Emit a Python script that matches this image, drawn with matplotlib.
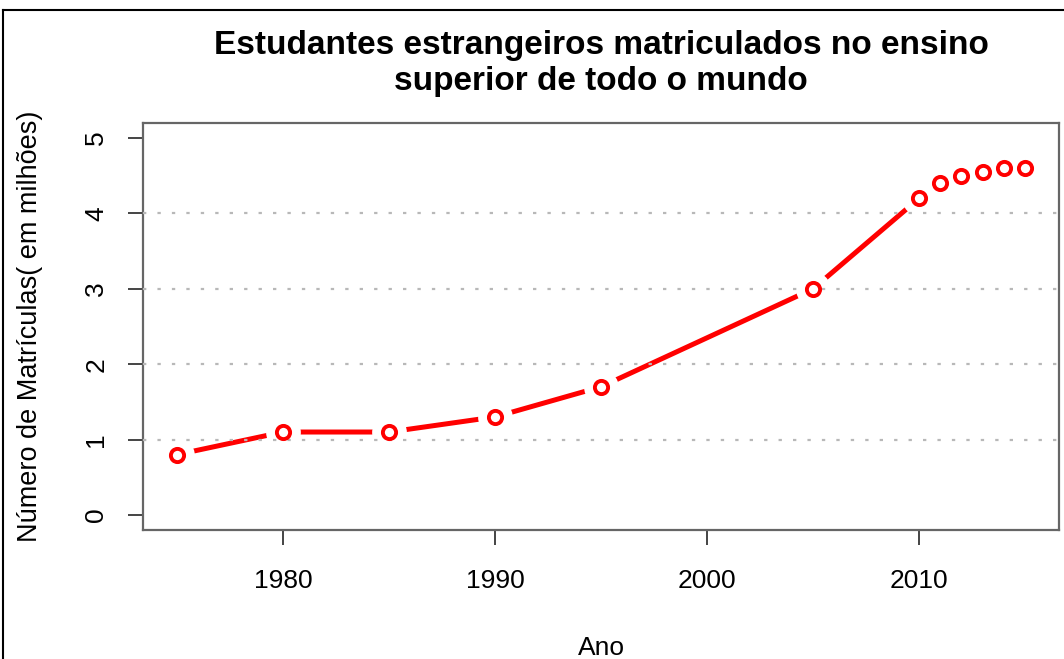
import numpy as np
import matplotlib
matplotlib.use("Agg")
import matplotlib.pyplot as plt
from matplotlib.lines import Line2D

plt.rcParams['font.family'] = ['Liberation Sans', 'DejaVu Sans']

# dados (em milhões de matrículas)
anos = [1975, 1980, 1985, 1990, 1995, 2005, 2010, 2011, 2012, 2013, 2014, 2015]
matriculas = [0.8, 1.1, 1.1, 1.3, 1.7, 3.0, 4.2, 4.4, 4.5, 4.55, 4.6, 4.6]
xticks = [1980, 1990, 2000, 2010]
yticks = [0, 1, 2, 3, 4, 5]
grade = [1, 2, 3, 4]

titulo = "Estudantes estrangeiros matriculados no ensino\nsuperior de todo o mundo"

fig = plt.figure(figsize=(10.64, 6.59), dpi=100)
ax = fig.add_axes([143/1064, 1 - 530/659, (1059 - 143)/1064, (530 - 123)/659])

# linha (tipo "b" do R: linha com falhas em volta dos pontos)
ax.plot(anos, matriculas, color='red', lw=3.6, solid_capstyle='butt', zorder=1)
ax.plot(anos, matriculas, ls='none', marker='o', ms=25, mfc='white', mec='none', zorder=2)
for g in grade:
    ax.axhline(g, color='#b8b8b8', lw=1.6, ls=(0, (1.5, 5)), zorder=3)
ax.plot(anos, matriculas, ls='none', marker='o', ms=9.5, mfc='white', mec='red', mew=2.8, zorder=4)

ax.set_xlim(1973.4, 2016.6)
ax.set_ylim(-0.2, 5.2)
ax.set_xticks(xticks)
ax.set_yticks(yticks)
ax.tick_params(axis='both', length=11, width=1.4, color='#444444', labelsize=19)
ax.tick_params(axis='x', pad=17)
ax.tick_params(axis='y', pad=14)
for lab in ax.get_yticklabels():
    lab.set_rotation(90)
    lab.set_va('center')
for s in ax.spines.values():
    s.set_color('#666666')
    s.set_linewidth(1.6)

ax.set_xlabel("Ano", fontsize=19, labelpad=31)
ax.set_ylabel("Número de Matrículas( em milhões)", fontsize=19.5, labelpad=30)
ax.set_title(titulo, fontsize=24, fontweight='bold', pad=24, linespacing=1.2)

# moldura da captura
fig.add_artist(Line2D([3/1064, 3/1064], [0, 1 - 10/659], color='black', lw=1.5))
fig.add_artist(Line2D([3/1064, 1], [1 - 10/659, 1 - 10/659], color='black', lw=1.5))

fig.savefig("out.png", dpi=100)
